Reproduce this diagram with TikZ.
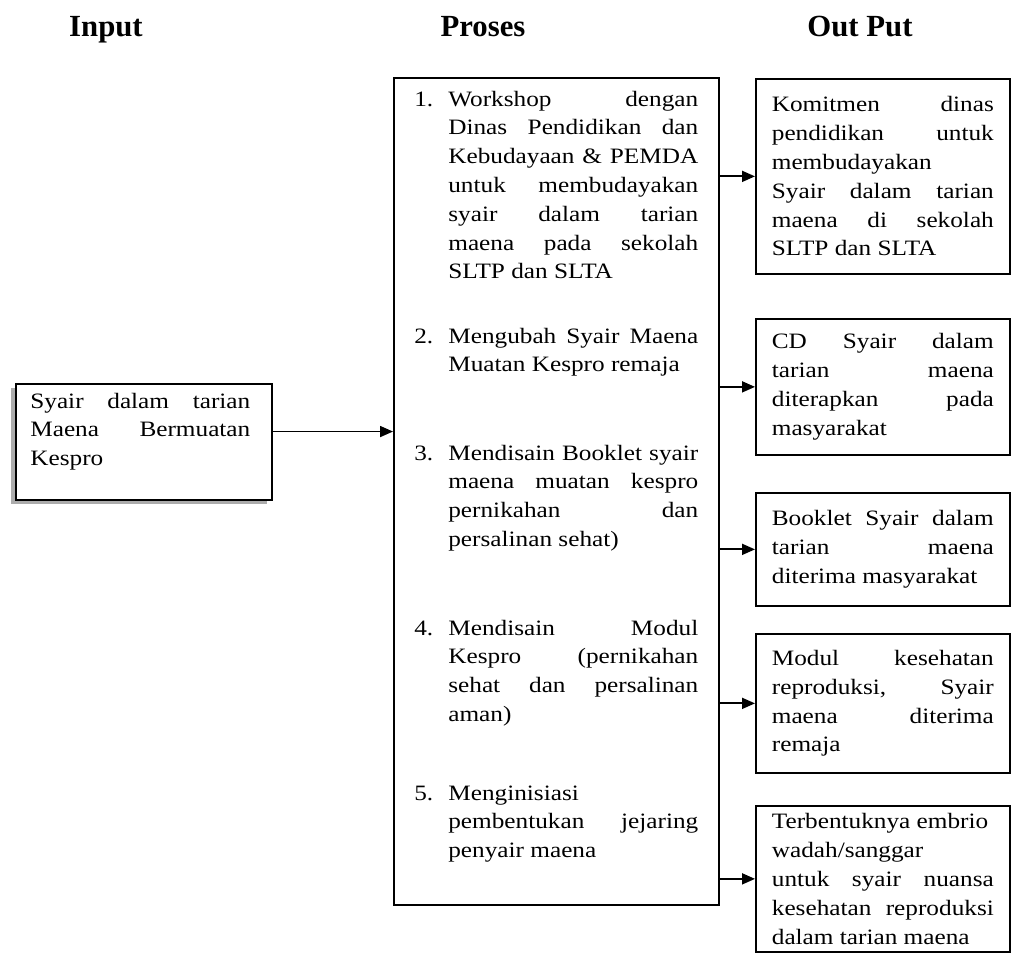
\documentclass[tikz,border=0pt]{standalone}
\usepackage{fontspec}
\setmainfont{Liberation Serif}[FakeStretch=1.15]
\newfontfamily\headfont{Liberation Serif}
\usetikzlibrary{positioning,arrows.meta,shadows}
\hyphenpenalty=10000
\tolerance=10000

\begin{document}
\begin{tikzpicture}[
  x=0.02cm, y=-0.02cm,
  hd/.style={font=\headfont\bfseries\fontsize{17.5}{20}\selectfont, inner sep=0pt, anchor=base},
  txt/.style={font=\fontsize{12.5}{16.4}\selectfont, align=justify},
  outbox/.style={draw, line width=1pt, txt, text width=4.44cm, minimum width=5.08cm,
    inner ysep=2pt, anchor=north west},
  itm/.style={txt, text width=5cm, inner sep=0pt, anchor=base west},
  num/.style={txt, inner sep=0pt, anchor=base west},
  arr/.style={-{Triangle[length=2.6mm, width=2.2mm]}, line width=1pt}
]
\useasboundingbox (0,0) rectangle (1011,954);

\node[hd] (hin) at (106,36) {Input};
\node[hd] (hpr) at (483,36) {Proses};
\node[hd] (hout) at (860,36) {Out Put};

\node[draw, line width=1pt, minimum width=5.12cm, minimum height=2.32cm, anchor=north west,
  fill=white, drop shadow={shadow xshift=-0.09cm, shadow yshift=-0.09cm, fill=gray!65, opacity=1}]
  (inp) at (15,383) {};
\node[txt, text width=4.4cm, inner sep=0pt, anchor=base west] (inptxt) at (30,408)
  {Syair dalam tarian\linebreak Maena Bermuatan\linebreak Kespro};

\node[draw, line width=1pt, minimum width=6.5cm, minimum height=16.55cm, anchor=north west]
  (proc) at (393,77) {};

\node[itm] (p1) at (448,106) {Workshop dengan\linebreak Dinas Pendidikan dan\linebreak
  Kebudayaan \& PEMDA\linebreak untuk membudayakan\linebreak syair dalam tarian\linebreak
  maena pada sekolah\linebreak SLTP dan SLTA};
\node[itm] (p2) at (448,343) {Mengubah Syair Maena\linebreak Muatan Kespro remaja};
\node[itm] (p3) at (448,460) {Mendisain Booklet syair\linebreak maena muatan kespro\linebreak
  pernikahan dan\linebreak persalinan sehat)};
\node[itm] (p4) at (448,635) {Mendisain Modul\linebreak Kespro (pernikahan\linebreak
  sehat dan persalinan\linebreak aman)};
\node[itm] (p5) at (448,800) {Menginisiasi\newline pembentukan jejaring\linebreak penyair maena};

\foreach \i in {1,...,5}
  \node[num] (n\i) at ([xshift=-0.68cm]p\i.base west) {\i.};

\node[outbox, minimum height=3.9cm] (o1) at (755,78) {Komitmen dinas\linebreak
  pendidikan untuk\linebreak membudayakan\newline Syair dalam tarian\linebreak
  maena di sekolah\linebreak SLTP dan SLTA};
\node[outbox, minimum height=2.72cm] (o2) at (755,318) {CD Syair dalam\linebreak
  tarian maena\linebreak diterapkan pada\linebreak masyarakat};
\node[outbox, minimum height=2.26cm] (o3) at (755,492) {Booklet Syair dalam\linebreak
  tarian maena\linebreak diterima masyarakat};
\node[outbox, minimum height=2.78cm] (o4) at (755,633) {Modul kesehatan\linebreak
  reproduksi, Syair\linebreak maena diterima\linebreak remaja};
\node[outbox, minimum height=2.92cm] (o5) at (755,805) {Terbentuknya embrio\newline
  wadah/sanggar\newline untuk syair nuansa\linebreak kesehatan reproduksi\linebreak
  dalam tarian maena};

\draw[arr] (inptxt.east -| inp.east) -- (inptxt.east -| proc.west);
\foreach \b in {o1,o2,o3,o4,o5}
  \draw[arr] (\b.west -| proc.east) -- (\b.west);
\end{tikzpicture}
\end{document}
